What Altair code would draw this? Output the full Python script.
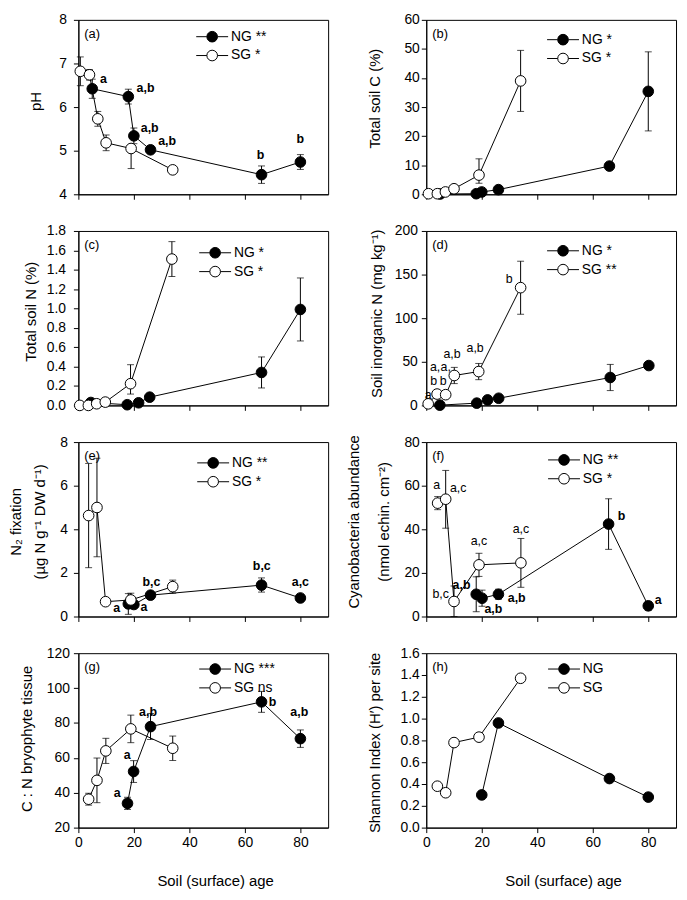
import altair as alt
import pandas as pd

FONT = "Liberation Sans"
AGE_TICKS = [0, 20, 40, 60, 80]
SERIES = ["NG", "SG"]

# ---------------- (a) pH ----------------
A_NG_X = [5, 18, 20, 26, 66, 80]
A_NG_Y = [6.42, 6.24, 5.34, 5.02, 4.45, 4.74]
A_NG_LO = [6.20, 6.07, 5.16, 4.98, 4.25, 4.57]
A_NG_HI = [6.64, 6.41, 5.52, 5.06, 4.65, 4.91]
A_SG_X = [0.7, 4, 7, 10, 19, 34]
A_SG_Y = [6.82, 6.74, 5.73, 5.18, 5.05, 4.56]
A_SG_LO = [6.49, 6.62, 5.56, 5.00, 4.59, 4.56]
A_SG_HI = [7.15, 6.86, 5.90, 5.36, 5.10, 4.56]
A_LET_T = ["a", "a,b", "a,b", "a,b", "b", "b"]
A_LET_X = [9.0, 24.2, 25.7, 32.0, 65.6, 80.0]
A_LET_Y = [6.64, 6.43, 5.53, 5.21, 4.91, 5.27]

# ---------------- (b) Total soil C ----------------
B_NG_X = [5, 18, 20, 26, 66, 80]
B_NG_Y = [0.1, 0.2, 0.8, 1.6, 9.7, 35.4]
B_NG_LO = [0.1, 0.2, 0.8, 1.6, 9.7, 21.8]
B_NG_HI = [0.1, 0.2, 0.8, 1.6, 9.7, 49.0]
B_SG_X = [0.8, 4, 6.9, 10, 19, 34]
B_SG_Y = [0.2, 0.2, 0.8, 1.9, 6.6, 39.0]
B_SG_LO = [0.2, 0.2, 0.8, 1.9, 3.8, 28.5]
B_SG_HI = [0.2, 0.2, 0.8, 1.9, 12.2, 49.5]

# ---------------- (c) Total soil N ----------------
C_NG_X = [4.5, 17.6, 21.7, 25.7, 66, 80]
C_NG_Y = [0.03, 0.007, 0.027, 0.085, 0.34, 0.99]
C_NG_LO = [0.03, 0.007, 0.027, 0.085, 0.18, 0.665]
C_NG_HI = [0.03, 0.007, 0.027, 0.085, 0.50, 1.315]
C_SG_X = [0.5, 3.6, 6.6, 9.7, 18.8, 33.7]
C_SG_Y = [0.0, 0.0, 0.017, 0.034, 0.224, 1.51]
C_SG_LO = [0.0, 0.0, 0.017, 0.034, 0.117, 1.33]
C_SG_HI = [0.0, 0.0, 0.017, 0.034, 0.42, 1.69]

# ---------------- (d) Soil inorganic N ----------------
D_NG_X = [4.9, 18.2, 22.1, 26.1, 66.3, 80.2]
D_NG_Y = [0.3, 2.6, 6.3, 8.2, 32.0, 45.7]
D_NG_LO = [0.3, 2.6, 6.3, 8.2, 17.0, 45.7]
D_NG_HI = [0.3, 2.6, 6.3, 8.2, 47.0, 45.7]
D_SG_X = [0.7, 3.9, 7.0, 10.1, 18.9, 34]
D_SG_Y = [1.8, 13.0, 12.3, 34.3, 38.8, 135.0]
D_SG_LO = [1.8, 13.0, 12.3, 25.0, 29.5, 104.5]
D_SG_HI = [1.8, 13.0, 12.3, 43.6, 48.1, 165.3]
D_LETR_T = ["a", "a,", "a,", "b", "b", "a,b", "a,b", "b"]
D_LETR_X = [0.7, 3.2, 7.0, 2.7, 6.1, 9.3, 17.6, 29.9]
D_LETR_Y = [12.0, 43.7, 43.7, 28.0, 28.0, 58.5, 66.0, 144.7]

# ---------------- (e) N2 fixation ----------------
E_NG_X = [18, 20, 26, 66, 80]
E_NG_Y = [0.58, 0.55, 0.98, 1.44, 0.85]
E_NG_LO = [0.10, 0.40, 0.98, 1.12, 0.85]
E_NG_HI = [1.05, 0.70, 0.98, 1.77, 0.85]
E_SG_X = [3.7, 6.7, 9.8, 18.9, 34]
E_SG_Y = [4.63, 5.00, 0.68, 0.76, 1.37]
E_SG_LO = [2.24, 2.74, 0.68, 0.45, 1.07]
E_SG_HI = [7.02, 7.26, 0.68, 1.07, 1.67]
E_LET_T = ["a", "a", "b,c", "b,c", "a,c"]
E_LET_X = [13.8, 23.6, 26.3, 66.1, 80.0]
E_LET_Y = [0.39, 0.42, 1.58, 2.33, 1.58]

# ---------------- (f) Cyanobacteria abundance ----------------
F_NG_X = [18, 20.1, 26, 65.7, 80]
F_NG_Y = [10.2, 8.4, 10.2, 42.4, 4.9]
F_NG_LO = [2.2, 4.7, 7.9, 30.8, 2.9]
F_NG_HI = [18.2, 12.1, 12.5, 54.0, 6.9]
F_SG_X = [4.1, 7.0, 10, 19, 34.1]
F_SG_Y = [52.0, 53.8, 6.9, 23.7, 24.6]
F_SG_LO = [49.0, 40.5, 0.0, 18.4, 13.4]
F_SG_HI = [55.0, 67.0, 14.0, 29.0, 35.8]
F_LET_T = ["a,b", "a,b", "a,b", "b", "a"]
F_LET_X = [12.7, 24.2, 32.6, 70.4, 83.6]
F_LET_Y = [14.4, 3.6, 8.7, 46.3, 7.5]
F_LETR_T = ["a", "a,c", "b,c", "a,c", "a,c"]
F_LETR_X = [3.8, 11.5, 5.2, 19.0, 34.1]
F_LETR_Y = [60.2, 58.7, 10.2, 34.7, 40.3]

# ---------------- (g) C:N bryophyte tissue ----------------
G_NG_X = [17.7, 19.9, 26, 66, 80]
G_NG_Y = [33.9, 52.2, 77.9, 92.1, 71.0]
G_NG_LO = [30.4, 45.9, 70.5, 86.1, 66.0]
G_NG_HI = [37.4, 58.4, 85.4, 98.1, 76.0]
G_SG_X = [3.7, 6.7, 9.9, 18.9, 34]
G_SG_Y = [36.3, 47.1, 64.0, 76.6, 65.5]
G_SG_LO = [32.9, 34.3, 56.8, 68.7, 58.5]
G_SG_HI = [39.7, 59.9, 71.2, 84.5, 72.5]
G_LET_T = ["a", "a", "a,b", "b", "a,b"]
G_LET_X = [14.0, 17.6, 25.1, 70.0, 79.6]
G_LET_Y = [40.0, 61.6, 86.5, 91.9, 86.5]

# ---------------- (h) Shannon index ----------------
H_NG_X = [20, 26, 66, 80]
H_NG_Y = [0.30, 0.96, 0.45, 0.28]
H_SG_X = [4, 7, 10, 19, 34]
H_SG_Y = [0.38, 0.32, 0.78, 0.83, 1.37]

W, H = 252, 176
SYMBOL = "M-3,0L-1,0M1,0L3,0M-1,0A1,1,0,1,1,1,0A1,1,0,1,1,-1,0Z"


def frame(ng, sg):
    rows = []
    for name, (xs, ys, lo, hi) in zip(SERIES, (ng, sg)):
        for i in range(len(xs)):
            rows.append(dict(series=name, x=xs[i], y=ys[i],
                             lo=lo[i] if lo else ys[i],
                             hi=hi[i] if hi else ys[i]))
    return pd.DataFrame(rows)


def panel(tag, ng, sg, ydom, yticks, ytitle, tx, ty, legend_labels, cx, cy,
          bottom=False, yfmt=None, lh=None, bold=None, regular=None, errors=True,
          lpad=4):
    df = frame(ng, sg)
    xscale = alt.Scale(domain=[0, 90], nice=False, zero=False)
    yscale = alt.Scale(domain=ydom, nice=False, zero=False)
    common = dict(grid=False, tickSize=5, tickWidth=1, tickColor="black",
                  domainColor="black", domainWidth=1, labelColor="black",
                  labelFont=FONT, labelFontSize=14, labelFlush=False)
    xkw = dict(common, values=AGE_TICKS, labelPadding=3)
    if bottom:
        xkw.update(title="Soil (surface) age", titleFont=FONT, titleFontSize=15,
                   titleFontWeight="normal", titleColor="black", titleX=138,
                   titleY=53, titleBaseline="middle", titleAlign="center")
    else:
        xkw.update(labels=False, title=None)
    ykw = dict(common, values=yticks, labelPadding=lpad, title=ytitle,
               titleFont=FONT, titleFontSize=15, titleFontWeight="normal",
               titleColor="black", titleX=tx, titleY=ty, titleAngle=270,
               titleBaseline="middle", titleAlign="center")
    if yfmt:
        ykw["format"] = yfmt
    if lh:
        ykw["titleLineHeight"] = lh
    xaxis = alt.Axis(**xkw)
    yaxis = alt.Axis(**ykw)
    X = alt.X("x:Q", scale=xscale, axis=xaxis)

    def Y(f):
        return alt.Y(f"{f}:Q", scale=yscale, axis=yaxis)

    base = alt.Chart(df)
    layers = []
    if errors:
        layers.append(base.mark_rule(color="black", strokeWidth=1).encode(
            x=X, y=Y("lo"), y2="hi:Q"))
        for f in ("lo", "hi"):
            layers.append(base.mark_tick(orient="horizontal", color="black",
                                         size=7, thickness=1).encode(x=X, y=Y(f)))
    layers.append(base.mark_line(color="black", strokeWidth=1).encode(
        x=X, y=Y("y"), detail="series:N"))
    ng_lab, sg_lab = legend_labels
    legend = alt.Legend(orient="none", legendX=cx - 6, legendY=cy - 7, title=None,
                        direction="vertical", symbolType=SYMBOL, symbolSize=115,
                        symbolStrokeColor="black", symbolStrokeWidth=1,
                        labelFont=FONT, labelFontSize=14, labelColor="black",
                        labelOffset=12, rowPadding=3, padding=0,
                        labelExpr=f"datum.label == 'NG' ? '{ng_lab}' : '{sg_lab}'")
    layers.append(base.mark_point(shape="circle", filled=True, size=115,
                                  stroke="black", strokeWidth=1, opacity=1).encode(
        x=X, y=Y("y"),
        fill=alt.Fill("series:N", scale=alt.Scale(domain=SERIES, range=["black", "white"]),
                      legend=legend)))
    for spec, weight, size in ((bold, "bold", 12.5), (regular, "normal", 12.5)):
        if spec:
            t, xs, ys = spec
            ldf = pd.DataFrame(dict(t=t, x=xs, y=ys))
            layers.append(alt.Chart(ldf).mark_text(font=FONT, fontSize=size,
                                                   fontWeight=weight, color="black").encode(
                x=X, y=Y("y"), text="t:N"))
    layers.append(alt.Chart(pd.DataFrame({"t": [tag]})).mark_text(
        font=FONT, fontSize=13, align="left", baseline="middle", color="black").encode(
        x=alt.value(6), y=alt.value(14), text="t:N"))
    return alt.layer(*layers).properties(width=W, height=H)


pa = panel("(a)", (A_NG_X, A_NG_Y, A_NG_LO, A_NG_HI), (A_SG_X, A_SG_Y, A_SG_LO, A_SG_HI),
           [4, 8], [4, 5, 6, 7, 8], "pH", -43, 82, ("NG  **", "SG  *"), 134, 17,
           bold=(A_LET_T, A_LET_X, A_LET_Y), lpad=7)
pb = panel("(b)", (B_NG_X, B_NG_Y, B_NG_LO, B_NG_HI), (B_SG_X, B_SG_Y, B_SG_LO, B_SG_HI),
           [0, 60], [0, 10, 20, 30, 40, 50, 60], "Total soil C (%)", -52, 79,
           ("NG  *", "SG  *"), 137, 20, lpad=2)
pc = panel("(c)", (C_NG_X, C_NG_Y, C_NG_LO, C_NG_HI), (C_SG_X, C_SG_Y, C_SG_LO, C_SG_HI),
           [0, 1.8], [0, 0.2, 0.4, 0.6, 0.8, 1.0, 1.2, 1.4, 1.6, 1.8], "Total soil N (%)",
           -48, 81, ("NG  *", "SG  *"), 137, 22, yfmt=".1f", lpad=8)
pd_ = panel("(d)", (D_NG_X, D_NG_Y, D_NG_LO, D_NG_HI), (D_SG_X, D_SG_Y, D_SG_LO, D_SG_HI),
            [0, 200], [0, 50, 100, 150, 200], "Soil inorganic N (mg kg\u207b\u00b9)", -50, 83,
            ("NG  *", "SG  **"), 137, 20, regular=(D_LETR_T, D_LETR_X, D_LETR_Y), lpad=4)
pe = panel("(e)", (E_NG_X, E_NG_Y, E_NG_LO, E_NG_HI), (E_SG_X, E_SG_Y, E_SG_LO, E_SG_HI),
           [0, 8], [0, 2, 4, 6, 8], ["N\u2082 fixation", "(\u00b5g N g\u207b\u00b9 DW d\u207b\u00b9)"],
           -63, 80, ("NG  **", "SG  *"), 135, 21, lh=24, bold=(E_LET_T, E_LET_X, E_LET_Y),
           lpad=6)
pf = panel("(f)", (F_NG_X, F_NG_Y, F_NG_LO, F_NG_HI), (F_SG_X, F_SG_Y, F_SG_LO, F_SG_HI),
           [0, 80], [0, 20, 40, 60, 80], ["Cyanobacteria abundance", "(nmol echin. cm\u207b\u00b2)"],
           -73, 80, ("NG  **", "SG  *"), 138, 18, lh=30,
           bold=(F_LET_T, F_LET_X, F_LET_Y), regular=(F_LETR_T, F_LETR_X, F_LETR_Y), lpad=2)
pg = panel("(g)", (G_NG_X, G_NG_Y, G_NG_LO, G_NG_HI), (G_SG_X, G_SG_Y, G_SG_LO, G_SG_HI),
           [20, 120], [20, 40, 60, 80, 100, 120], "C : N bryophyte tissue", -52, 86,
           ("NG  ***", "SG  ns"), 137, 16, bottom=True, bold=(G_LET_T, G_LET_X, G_LET_Y),
           lpad=4)
ph = panel("(h)", (H_NG_X, H_NG_Y, None, None), (H_SG_X, H_SG_Y, None, None),
           [0, 1.6], [0, 0.2, 0.4, 0.6, 0.8, 1.0, 1.2, 1.4, 1.6],
           "Shannon Index (H\u2032) per site", -52, 90, ("NG", "SG"), 138, 16,
           bottom=True, yfmt=".1f", errors=False, lpad=2)

chart = alt.concat(pa, pb, pc, pd_, pe, pf, pg, ph, columns=2,
                   spacing={"row": 37, "column": 99}, bounds="flush").resolve_scale(
    x="independent", y="independent", fill="independent").resolve_legend(
    fill="independent").properties(
    padding={"left": 0, "top": 0, "right": 2, "bottom": 0}).configure(
    font=FONT).configure_view(stroke="black", strokeWidth=1)

chart.save("out.html", embed_options={"renderer": "svg", "actions": False})
